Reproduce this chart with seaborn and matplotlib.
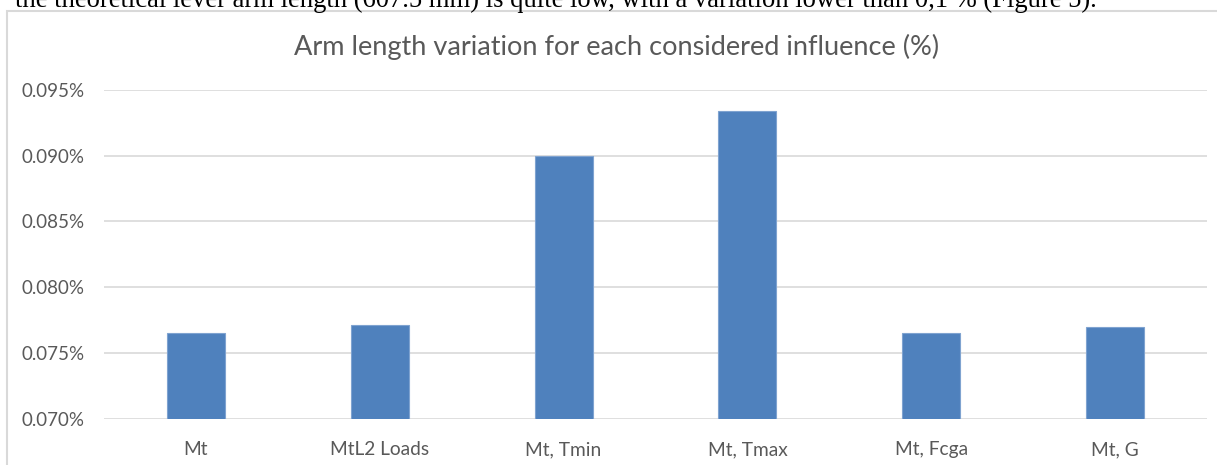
import matplotlib
matplotlib.use("Agg")
import matplotlib.pyplot as plt
import matplotlib.patches as mpatches
from matplotlib.ticker import FuncFormatter, MultipleLocator
import seaborn as sns
import pandas as pd

categories = ["Mt", "MtL2 Loads", "Mt, Tmin", "Mt, Tmax", "Mt, Fcga", "Mt, G"]
values = [0.0765, 0.0771, 0.0900, 0.0934, 0.0765, 0.0770]
title = "Arm length variation for each considered influence (%)"
doc_text = ("the theoretical lever arm length (607.5 mm) is quite low, with a variation "
            "lower than 0,1 % (Figure 5).")

df = pd.DataFrame({"cat": categories, "val": values})

sns.set_theme(style="white")
plt.rcParams["font.family"] = ["Lato", "DejaVu Sans"]

W, H = 1217, 465
fig = plt.figure(figsize=(W / 100, H / 100), dpi=100)
fig.patch.set_facecolor("white")

# chart frame
frame = mpatches.Rectangle((7 / W, -0.1), 1.2, (H - 11) / H + 0.1, transform=fig.transFigure,
                           fill=False, edgecolor="#D9D9D9", linewidth=1.5, zorder=0)
fig.patches.append(frame)

# document text (clipped at top, as in the page excerpt)
fig.text(15 / W, (H - 7) / H, doc_text, family="Liberation Serif", fontsize=19.2,
         color="black", va="baseline", ha="left")

ax = fig.add_axes([104 / W, 46.3 / H, 1103 / W, 328.7 / H])
sns.barplot(data=df, x="cat", y="val", color="#4F81BD", width=0.316, ax=ax,
            edgecolor="#7FA3D0", linewidth=0.8, saturation=1, zorder=3)
ax.set_ylim(0.070, 0.095)
ax.yaxis.set_major_locator(MultipleLocator(0.005))
ax.yaxis.set_major_formatter(FuncFormatter(lambda v, p: f"{v:.3f}%"))
ax.grid(axis="y", color="#D9D9D9", linewidth=1.2, zorder=0)
ax.set_axisbelow(True)
for s in ax.spines.values():
    s.set_visible(False)
ax.set_xlabel("")
ax.set_ylabel("")
ax.tick_params(axis="y", length=0, pad=14, labelsize=13.5, labelcolor="#595959")
ax.tick_params(axis="x", length=0, pad=16, labelsize=13.8, labelcolor="#595959")
ax.set_xlim(-0.5, len(categories) - 0.5)

fig.text(617 / W, (H - 47) / H, title, ha="center", va="center", fontsize=19.5,
         color="#595959", fontweight="normal")

fig.savefig("out.png", dpi=100, facecolor="white")
